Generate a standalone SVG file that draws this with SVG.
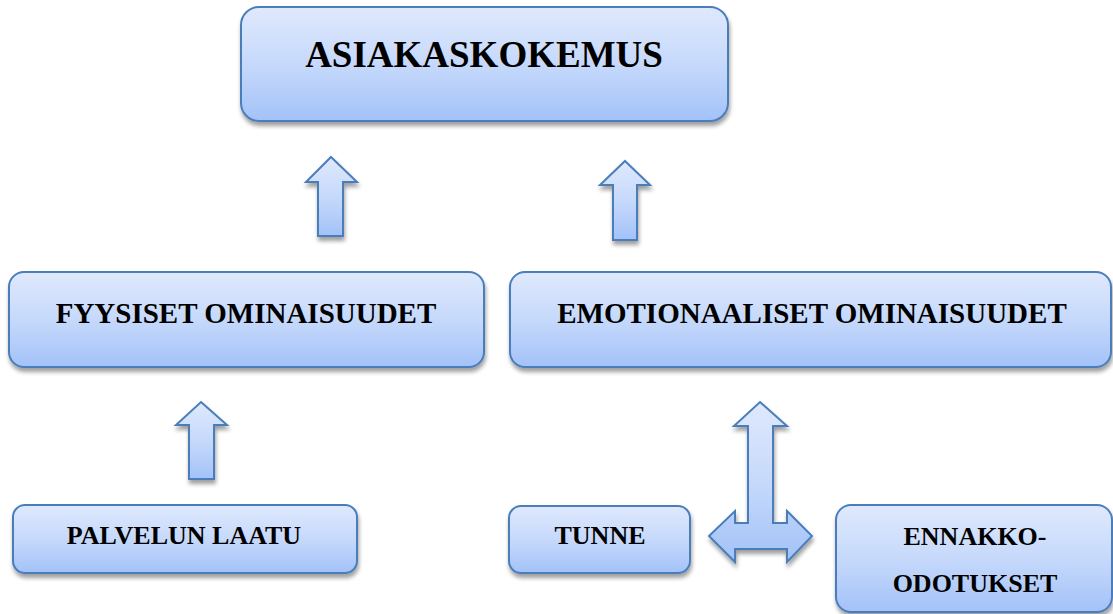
<svg xmlns="http://www.w3.org/2000/svg" width="1113" height="614" viewBox="0 0 1113 614">
  <defs>
    <linearGradient id="fillGrad" x1="0" y1="0" x2="0" y2="1">
      <stop offset="0" stop-color="#dfe9fd"/>
      <stop offset="0.5" stop-color="#c6d9fb"/>
      <stop offset="1" stop-color="#a3c2f8"/>
    </linearGradient>
    <filter id="shadow" x="-10%" y="-10%" width="120%" height="130%">
      <feGaussianBlur in="SourceAlpha" stdDeviation="2.2"/>
      <feOffset dx="1" dy="3.5" result="off"/>
      <feComponentTransfer>
        <feFuncA type="linear" slope="0.38"/>
      </feComponentTransfer>
      <feMerge>
        <feMergeNode/>
        <feMergeNode in="SourceGraphic"/>
      </feMerge>
    </filter>
  </defs>
  <style>
    .box { fill: url(#fillGrad); stroke: #4a7ebb; stroke-width: 2; filter: url(#shadow); }
    .arrow { fill: url(#fillGrad); stroke: #4a7ebb; stroke-width: 2; stroke-linejoin: miter; filter: url(#shadow); }
    .label { font-family: "Liberation Serif", "Times New Roman", serif; font-weight: bold; fill: #000; text-anchor: middle; }
    .big { font-size: 37px; }
    .mid { font-size: 29px; }
    .small { font-size: 26px; }
  </style>
  <rect width="1113" height="614" fill="#ffffff"/>

  <g id="asiakaskokemus">
    <rect class="box" x="241" y="7" width="487" height="114" rx="18"/>
    <text class="label big" x="484" y="67">ASIAKASKOKEMUS</text>
  </g>

  <g id="fyysiset">
    <rect class="box" x="9" y="272" width="475" height="95" rx="15"/>
    <text class="label mid" x="246" y="323">FYYSISET OMINAISUUDET</text>
  </g>

  <g id="emotionaaliset">
    <rect class="box" x="510" y="272" width="601" height="95" rx="15"/>
    <text class="label mid" x="812" y="323">EMOTIONAALISET OMINAISUUDET</text>
  </g>

  <g id="palvelun-laatu">
    <rect class="box" x="13" y="505" width="344" height="68" rx="12"/>
    <text class="label small" x="184" y="544">PALVELUN LAATU</text>
  </g>

  <g id="tunne">
    <rect class="box" x="509" y="506" width="181" height="67" rx="12"/>
    <text class="label small" x="600" y="544">TUNNE</text>
  </g>

  <g id="ennakko-odotukset">
    <rect class="box" x="836" y="505" width="276" height="107" rx="15"/>
    <text class="label small" x="975" y="545">ENNAKKO-</text>
    <text class="label small" x="975" y="592">ODOTUKSET</text>
  </g>

  <g id="connectors">
    <path class="arrow" d="M331,157 L357,182 L343,182 L343,236 L318,236 L318,182 L306,182 Z"/>
    <path class="arrow" d="M625,161 L650,185 L637,185 L637,240 L613,240 L613,185 L600,185 Z"/>
    <path class="arrow" d="M201,402 L227,425 L214,425 L214,479 L189,479 L189,425 L176,425 Z"/>
    <path class="arrow" d="M760,402 L787,426 L773,426 L773,523 L787,523 L787,511 L812,536 L787,562 L787,549 L735,549 L735,562 L709,536 L735,511 L735,523 L748,523 L748,426 L734,426 Z"/>
  </g>
</svg>
